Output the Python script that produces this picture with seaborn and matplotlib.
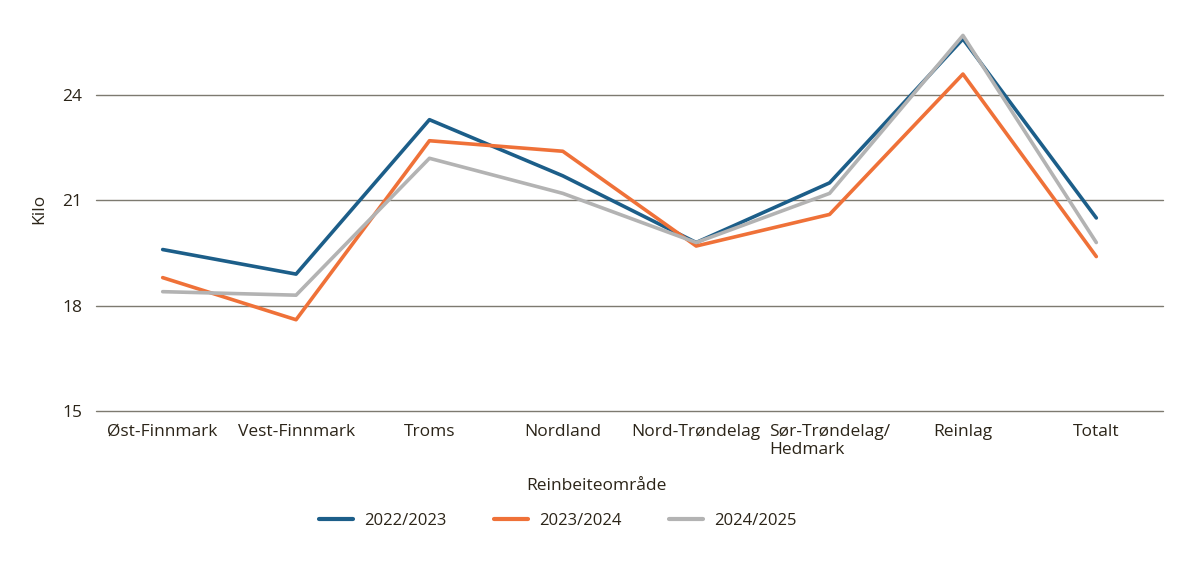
import matplotlib
matplotlib.use("Agg")
import matplotlib.pyplot as plt
import seaborn as sns
import pandas as pd
from matplotlib.lines import Line2D

categories = ["Øst-Finnmark", "Vest-Finnmark", "Troms", "Nordland", "Nord-Trøndelag",
              "Sør-Trøndelag/\nHedmark", "Reinlag", "Totalt"]
series_names = ["2022/2023", "2023/2024", "2024/2025"]
v2022 = [19.6, 18.9, 23.3, 21.7, 19.8, 21.5, 25.6, 20.5]
v2023 = [18.8, 17.6, 22.7, 22.4, 19.7, 20.6, 24.6, 19.4]
v2024 = [18.4, 18.3, 22.2, 21.2, 19.8, 21.2, 25.7, 19.8]
yticks = [15, 18, 21, 24]
colors = ["#1c5e89", "#ef7138", "#b3b3b3"]

rows = []
for name, vals in zip(series_names, [v2022, v2023, v2024]):
    for i, (c, v) in enumerate(zip(categories, vals)):
        rows.append({"pos": i, "Område": c, "Kilo": v, "Sesong": name})
df = pd.DataFrame(rows)

sns.set_theme(style="white")
plt.rcParams["font.family"] = ["Open Sans", "DejaVu Sans"]
txt = "#2b2418"

fig = plt.figure(figsize=(11.98, 5.68), dpi=100)
top_px = 411 - 11.5 * 35.1
ax = fig.add_axes([96/1198, 1-411/568, (1163-96)/1198, (411-top_px)/568])

for y in yticks:
    ax.axhline(y, color="#7d7a70", lw=1.0, zorder=0, clip_on=False)

sns.lineplot(data=df, x="pos", y="Kilo", hue="Sesong", palette=colors,
             linewidth=2.6, ax=ax, legend=False, sort=False)

ax.set_xlim(-0.5, 7.5)
ax.set_ylim(15, 26.5)
ax.set_yticks(yticks)
ax.set_yticklabels([str(t) for t in yticks], color=txt, fontsize=12.5)
ax.set_xticks(range(len(categories)))
ax.set_xticklabels(categories, color=txt, fontsize=12.5)
for lab in ax.get_xticklabels():
    lab.set_multialignment("left")
ax.tick_params(axis="y", length=0, pad=10)
ax.tick_params(axis="x", length=0, pad=9)
for s in ax.spines.values():
    s.set_visible(False)
ax.set_ylabel("Kilo", color=txt, fontsize=12.5, labelpad=11)
ax.set_xlabel("Reinbeiteområde", color=txt, fontsize=12.5, labelpad=11)
ax.xaxis.set_label_coords((596 - 96) / 1067, -0.165)

handles = [Line2D([0], [0], color=c, lw=3) for c in colors]
leg = fig.legend(handles, series_names, loc="center", bbox_to_anchor=(558/1198, 1-521/568),
                 ncol=3, frameon=False, fontsize=12, handlelength=2.0,
                 columnspacing=2.85, handletextpad=0.7)
for t in leg.get_texts():
    t.set_color(txt)

fig.savefig("out.png", dpi=100)
